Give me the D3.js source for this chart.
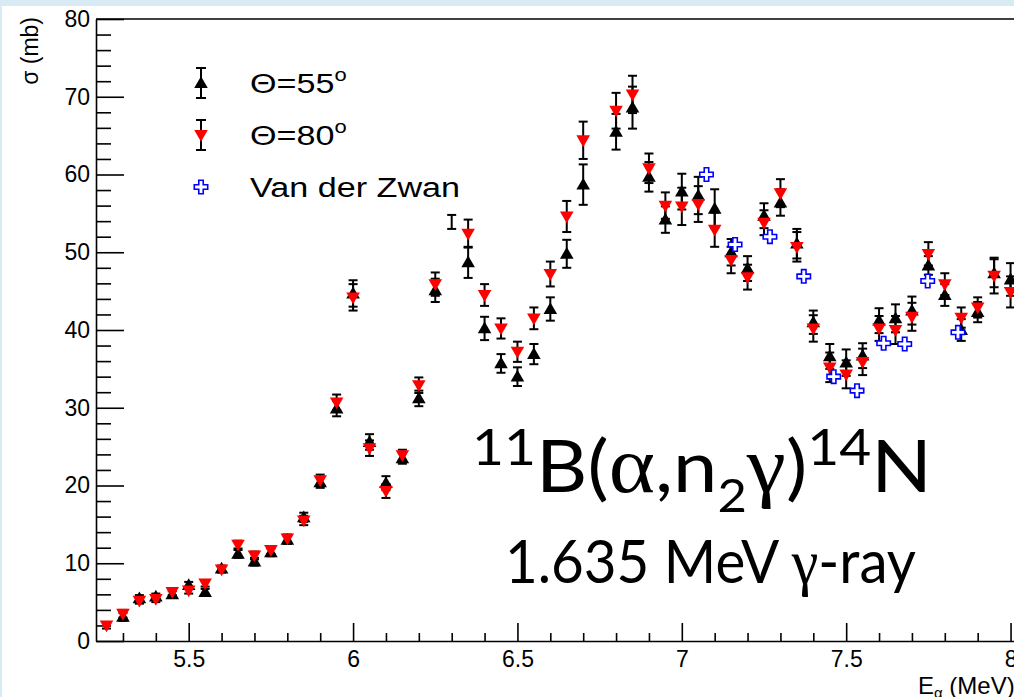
<!DOCTYPE html>
<html>
<head>
<meta charset="utf-8">
<script src="https://cdn.jsdelivr.net/npm/d3@7"></script>
<style>
  body { margin: 0; background: #d8ebf5; }
  svg { display: block; }
</style>
</head>
<body>
<script>
// beam energies (MeV), one row of data per energy
const energy = [5.25, 5.30, 5.35, 5.40, 5.45, 5.50, 5.55, 5.60, 5.65, 5.70,
                5.75, 5.80, 5.85, 5.90, 5.95, 6.00, 6.05, 6.10, 6.15, 6.20,
                6.25, 6.30, 6.35, 6.40, 6.45, 6.50, 6.55, 6.60, 6.65, 6.70,
                6.75, 6.80, 6.85, 6.90, 6.95, 7.00, 7.05, 7.10, 7.15, 7.20,
                7.25, 7.30, 7.35, 7.40, 7.45, 7.50, 7.55, 7.60, 7.65, 7.70,
                7.75, 7.80, 7.85, 7.90, 7.95, 8.00];

// Theta = 55 deg
const sigma55 = [null, 3.1, 5.5, 5.7, 6.0, 7.2, 6.3, 9.3, 11.2, 10.2,
                 11.4, 13.0, 15.9, 20.4, 29.9, 44.7, 25.6, 20.3, 23.5, 31.2,
                 45.1, 53.9, 48.7, 40.2, 35.7, 34.0, 36.9, 42.7, 49.8, 58.7,
                 null, 65.5, 68.6, 59.7, 54.2, 57.8, 57.3, 55.6, 50.0, 47.9,
                 54.7, 56.4, 51.1, 41.0, 36.6, 35.8, 36.7, 41.2, 41.5, 42.5,
                 48.3, 44.5, 40.0, 42.3, 47.3, 46.5];
const err55 = [0, 0.5, 0.4, 0.4, 0.4, 0.4, 0.4, 0.4, 0.5, 0.5,
               0.5, 0.5, 0.6, 0.7, 1.0, 1.7, 1.0, 0.9, 0.7, 1.0,
               1.5, 0.9, 2.0, 1.5, 1.2, 1.2, 1.3, 1.5, 1.8, 2.6,
               0, 2.3, 2.7, 1.9, 1.7, 2.3, 2.4, 2.5, 1.7, 1.6,
               1.6, 1.7, 1.9, 1.5, 1.6, 1.7, 1.6, 1.6, 1.8, 1.8,
               1.2, 1.4, 1.4, 1.3, 1.8, 2.1];

// Theta = 80 deg
const sigma80 = [2.0, 3.5, 5.2, 5.4, 6.3, 6.5, 7.4, 9.2, 12.4, 11.0,
                 11.7, 13.2, 15.5, 20.7, 30.7, 44.2, 24.8, 19.3, 23.9, 32.9,
                 45.9, null, 52.4, 44.5, 40.2, 37.2, 41.5, 47.2, 54.6, 64.4,
                 null, 68.2, 70.3, 60.8, 56.0, 55.9, 56.2, 52.9, 49.0, 46.8,
                 53.8, 57.6, 50.7, 40.2, 35.2, 34.3, 35.9, 40.2, 40.0, 41.7,
                 49.8, 45.9, 41.6, 42.9, 47.0, 44.9];
const err80 = [0.4, 0.5, 0.4, 0.4, 0.4, 0.4, 0.4, 0.4, 0.5, 0.5,
               0.5, 0.5, 0.6, 0.7, 1.0, 1.7, 1.0, 0.9, 0.7, 1.0,
               1.5, 0, 1.8, 1.4, 1.3, 1.3, 1.4, 1.6, 2.0, 2.4,
               0, 2.3, 2.4, 1.9, 1.7, 2.4, 2.3, 2.2, 1.7, 1.6,
               1.6, 1.8, 1.9, 1.7, 1.9, 1.8, 1.7, 1.6, 1.8, 1.8,
               1.5, 1.4, 1.3, 1.3, 2.3, 2.0];

// energies where the 55 deg point shows only its error bar
const barOnly55 = [6.30];

// Van der Zwan
const zwanEnergy = [7.075, 7.162, 7.268, 7.371, 7.462, 7.533, 7.614, 7.678, 7.748, 7.840];
const zwanSigma = [60.0, 51.0, 52.0, 46.9, 34.0, 32.2, 38.3, 38.2, 46.3, 39.7];

const xMajor = [5.5, 6, 6.5, 7, 7.5, 8];
const xMinor = [5.3, 5.4, 5.6, 5.7, 5.8, 5.9, 6.1, 6.2, 6.3, 6.4, 6.6, 6.7, 6.8, 6.9,
                7.1, 7.2, 7.3, 7.4, 7.6, 7.7, 7.8, 7.9, 8.1];
const yMajor = [0, 10, 20, 30, 40, 50, 60, 70, 80];
const yMinor = [2, 4, 6, 8, 12, 14, 16, 18, 22, 24, 26, 28, 32, 34, 36, 38, 42, 44, 46, 48,
                52, 54, 56, 58, 62, 64, 66, 68, 72, 74, 76, 78];

const legendItems = ["55", "80", "Van der Zwan"];

const width = 1014, height = 697;
const sans = "'Liberation Sans', Arial, Helvetica, sans-serif";
const svg = d3.select("body").append("svg")
    .attr("width", width)
    .attr("height", height);

svg.append("rect").attr("width", width).attr("height", height).attr("fill", "#d8ebf5");
svg.append("rect").attr("x", 2).attr("y", 6).attr("width", width).attr("height", height).attr("fill", "#fff");

const x = d3.scaleLinear().domain([5.218, 8.12]).range([96, 1050]);
const y = d3.scaleLinear().domain([0, 80]).range([641, 19]);

// axes (ticks point inward, like ROOT)
const gx = svg.append("g").attr("transform", "translate(0,641)");
gx.call(d3.axisBottom(x).tickValues(xMinor).tickSize(-8).tickSizeOuter(0).tickFormat(""));
gx.select(".domain").remove();
const gx2 = svg.append("g").attr("transform", "translate(0,641)");
gx2.call(d3.axisBottom(x).tickValues(xMajor).tickSize(-18).tickSizeOuter(0)
    .tickPadding(10).tickFormat(d3.format("")));

const gy = svg.append("g").attr("transform", "translate(96,0)");
gy.call(d3.axisLeft(y).tickValues(yMinor).tickSize(-15).tickSizeOuter(0).tickFormat(""));
gy.select(".domain").remove();
const gy2 = svg.append("g").attr("transform", "translate(96,0)");
gy2.call(d3.axisLeft(y).tickValues(yMajor).tickSize(-28).tickSizeOuter(0).tickPadding(6));

svg.selectAll(".tick line, .domain").attr("stroke", "#000").attr("stroke-width", 1.6);
svg.selectAll(".tick text").attr("font-family", sans).attr("font-size", 23).attr("fill", "#000");

svg.append("line")
    .attr("x1", x(5.218)).attr("x2", x(8.12))
    .attr("y1", y(80)).attr("y2", y(80))
    .attr("stroke", "#000").attr("stroke-width", 1.6);

// axis titles
svg.append("text")
    .attr("transform", "translate(38,17) rotate(-90)")
    .attr("text-anchor", "end")
    .attr("font-family", sans).attr("font-size", 23)
    .text("σ (mb)");

const xt = svg.append("text")
    .attr("x", 918).attr("y", 694)
    .attr("font-family", sans).attr("font-size", 24);
xt.append("tspan").text("E");
xt.append("tspan").attr("font-size", 15).attr("dy", 4).text("α");
xt.append("tspan").attr("dy", -4).text(" (MeV)");

// data
const triUp = d3.symbol(d3.symbolTriangle, 80)();
const cross = d3.symbol(d3.symbolCross, 100)();

function errorBars(g, vals, errs, skip) {
    energy.forEach((e, i) => {
        const v = vals[i];
        if (v === null) return;
        const er = errs[i];
        const cx = x(e), y1 = y(v - er), y2 = y(v + er);
        g.append("line").attr("x1", cx).attr("x2", cx).attr("y1", y1).attr("y2", y2);
        g.append("line").attr("x1", cx - 4.5).attr("x2", cx + 4.5).attr("y1", y1).attr("y2", y1);
        g.append("line").attr("x1", cx - 4.5).attr("x2", cx + 4.5).attr("y1", y2).attr("y2", y2);
    });
    g.attr("stroke", "#000").attr("stroke-width", 2);
}

const g55 = svg.append("g");
errorBars(g55.append("g"), sigma55, err55);
g55.append("g").selectAll("path")
    .data(energy.map((e, i) => ({ e, v: sigma55[i] }))
        .filter(d => d.v !== null && !barOnly55.includes(d.e)))
    .join("path")
    .attr("d", triUp)
    .attr("transform", d => `translate(${x(d.e)},${y(d.v) + 1})`)
    .attr("fill", "#000");

const g80 = svg.append("g");
errorBars(g80.append("g"), sigma80, err80);
g80.append("g").selectAll("path")
    .data(energy.map((e, i) => ({ e, v: sigma80[i] })).filter(d => d.v !== null))
    .join("path")
    .attr("d", triUp)
    .attr("transform", d => `translate(${x(d.e)},${y(d.v) - 1}) rotate(180)`)
    .attr("fill", "#ff0000");

svg.append("g").selectAll("path")
    .data(zwanEnergy.map((e, i) => ({ e, v: zwanSigma[i] })))
    .join("path")
    .attr("d", cross)
    .attr("transform", d => `translate(${x(d.e)},${y(d.v)})`)
    .attr("fill", "#fff")
    .attr("stroke", "#0000ff")
    .attr("stroke-width", 1.6);

// legend
const legend = svg.append("g");
legendItems.forEach((name, i) => {
    const ly = 83 + i * 52;
    const row = legend.append("g");
    if (i < 2) {
        row.append("g").attr("stroke", "#000").attr("stroke-width", 2)
            .call(g => {
                g.append("line").attr("x1", 201).attr("x2", 201).attr("y1", ly - 15).attr("y2", ly + 15);
                g.append("line").attr("x1", 196).attr("x2", 206).attr("y1", ly - 15).attr("y2", ly - 15);
                g.append("line").attr("x1", 196).attr("x2", 206).attr("y1", ly + 15).attr("y2", ly + 15);
            });
        row.append("path").attr("d", triUp)
            .attr("transform", i === 0 ? `translate(201,${ly + 1})` : `translate(201,${ly - 1}) rotate(180)`)
            .attr("fill", i === 0 ? "#000" : "#ff0000");
    } else {
        row.append("path").attr("d", cross)
            .attr("transform", `translate(201,${ly})`)
            .attr("fill", "#fff").attr("stroke", "#0000ff").attr("stroke-width", 1.6);
    }
    const t = row.append("text")
        .attr("transform", `translate(250,${ly + 10}) scale(1.22,1)`)
        .attr("font-family", sans).attr("font-size", 28);
    if (i < 2) {
        t.append("tspan").text("Θ=" + name);
        t.append("tspan").attr("font-size", 18).attr("dy", -12).text("o");
    } else {
        t.text(name);
    }
});

// annotation
const gill = "Lato, 'Open Sans', sans-serif";
const serif = "'Liberation Serif', 'DejaVu Serif', serif";
const t1 = svg.append("text").attr("font-family", gill).attr("font-size", 72);
t1.append("tspan").attr("font-size", 50).attr("dy", -27).text("11");
t1.append("tspan").attr("dy", 27).text("B(");
t1.append("tspan").attr("font-family", serif).attr("font-size", 80).text("α");
t1.append("tspan").text(",n");
t1.append("tspan").attr("font-size", 46).attr("dy", 20).text("2");
t1.append("tspan").attr("dy", -20).attr("font-family", serif).attr("font-size", 80).text("γ");
t1.append("tspan").text(")");
t1.append("tspan").attr("font-size", 50).attr("dy", -27).text("14");
t1.append("tspan").attr("dy", 27).text("N");

const t2 = svg.append("text").attr("font-family", gill).attr("font-size", 60);
t2.append("tspan").text("1.635 MeV ");
t2.append("tspan").attr("font-family", serif).attr("font-size", 64).text("γ");
t2.append("tspan").text("-ray");

function fitText(t, x0, base, w) {
    const bb = t.node().getBBox();
    t.attr("transform", `translate(${x0 - bb.x * (w / bb.width)},${base}) scale(${w / bb.width},1)`);
}
fitText(t1, 472, 492, 460);
fitText(t2, 505, 583, 411);
</script>
</body>
</html>
